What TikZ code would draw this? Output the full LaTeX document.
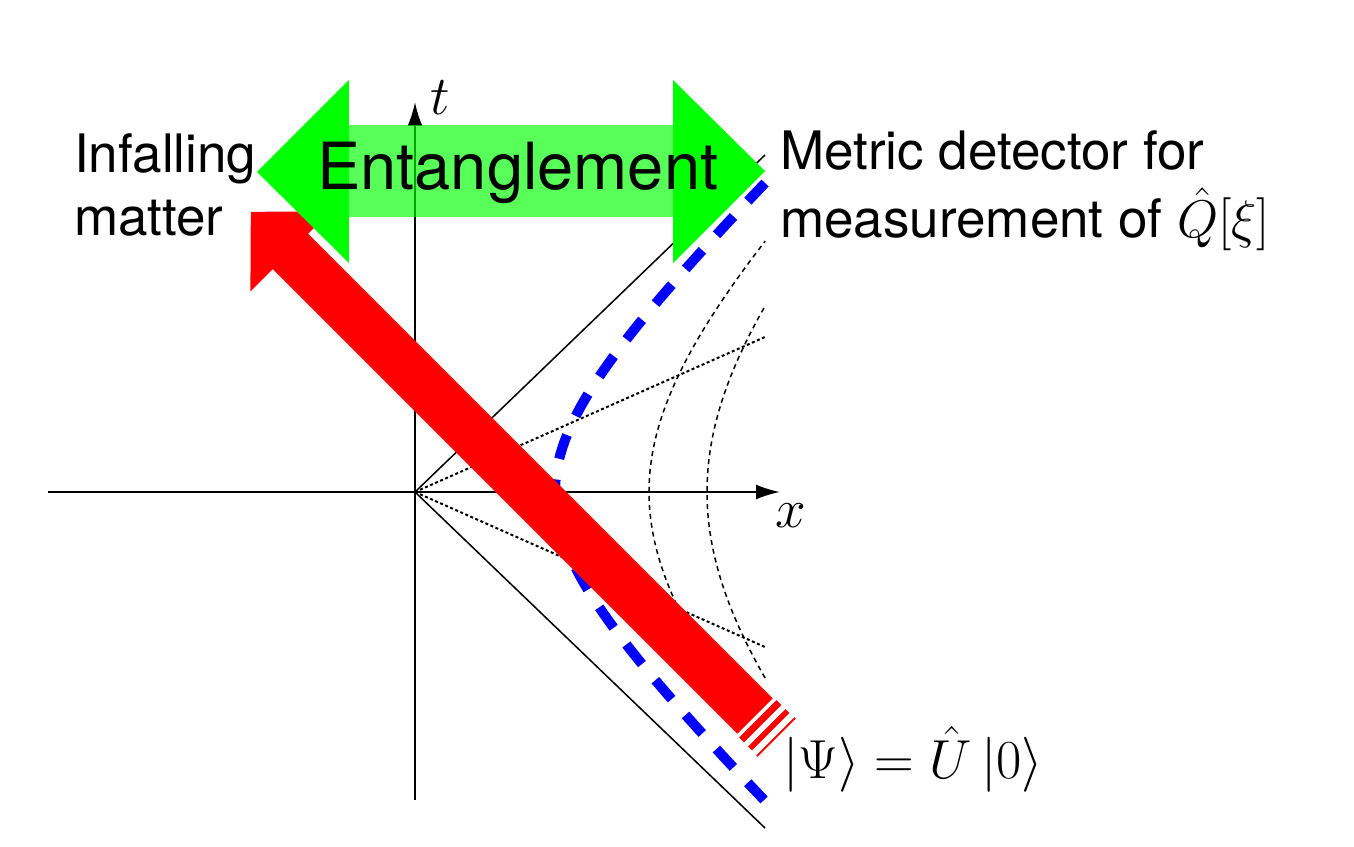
\RequirePackage{fix-cm}
\documentclass[tikz,border=0pt]{standalone}
\usepackage{fontspec}
\newfontfamily\hv{TeX Gyre Heros}
\usetikzlibrary{arrows.meta}
\definecolor{ggreen}{RGB}{0,255,0}
\definecolor{rred}{RGB}{255,0,0}
\definecolor{bblue}{RGB}{0,0,255}
\begin{document}
\begin{tikzpicture}[x=100pt,y=100pt,
  axisline/.style={line width=2pt,-{Latex[length=24pt,width=15pt]}},
  cone/.style={line width=1.5pt},
  ray/.style={line width=2pt,dash pattern=on 3pt off 2.5pt},
  hyp/.style={line width=1.5pt,dash pattern=on 5pt off 4pt},
  detector/.style={bblue,line width=10pt,dash pattern=on 25pt off 21pt},
  txt/.style={font=\hv\fontsize{53}{62}\selectfont,inner sep=0pt,anchor=base west},
  mtxt/.style={font=\fontsize{55}{64}\selectfont,inner sep=0pt,anchor=base west}]
\useasboundingbox[fill=white] (-4.15,-3.54) rectangle (9.39,4.92);
\coordinate (O) at (0,0);
\coordinate (tb) at (0,-3.08);
\coordinate (tt) at (0,3.90);
\coordinate (xl) at (-3.67,0);
\coordinate (xr) at (3.65,0);
% axes
\draw[axisline] (tb) -- (tt);
\draw[axisline] (xl) -- (xr);
% light cone
\coordinate (cu) at (3.5,3.37);
\coordinate (cd) at (3.5,-3.36);
\draw[cone] (O) -- (cu);
\draw[cone] (O) -- (cd);
% rays
\coordinate (ru) at (3.5,1.55);
\coordinate (rd) at (3.5,-1.55);
\coordinate (r0) at (3.5,0);
\draw[ray] (O) -- (ru);
\draw[ray] (O) -- (rd);
\draw[ray] (O) -- (r0);
% hyperbolae
\draw[hyp] plot[domain=-2.2:2.51,samples=70,variable=\vv] ({sqrt(2.34*2.34+(\vv/0.963)^2)},{\vv});
\draw[hyp] plot[domain=-1.86:1.86,samples=60,variable=\vv] ({sqrt(2.92*2.92+(\vv/0.963)^2)},{\vv});
% detector worldline
\draw[detector] plot[domain=3.09:-3.08,samples=90,variable=\vv] ({sqrt(1.96+(\vv/0.963)^2)},{\vv});
% infalling matter
\begin{scope}[shift={(3.40,-2.24)},rotate=-45]
\fill[rred] (0,-0.25) -- (-6.57,-0.25) -- (-6.57,-0.566) -- (-7.13,0) -- (-6.57,0.566) -- (-6.57,0.25) -- (0,0.25) -- cycle;
\draw[rred,line width=7pt] (0.074,-0.265) -- (0.074,0.265);
\draw[rred,line width=5.5pt] (0.194,-0.265) -- (0.194,0.265);
\draw[rred,line width=2pt] (0.297,-0.27) -- (0.297,0.27);
\end{scope}
% entanglement arrow
\fill[ggreen,opacity=0.65] (-0.66,2.75) rectangle (2.58,3.67);
\fill[ggreen] (-0.66,4.12) -- (-1.58,3.20) -- (-0.66,2.29) -- cycle;
\fill[ggreen] (2.58,4.12) -- (3.50,3.21) -- (2.58,2.29) -- cycle;
% labels
\node[txt,font=\hv\fontsize{65}{72}\selectfont] (ent) at (-0.98,3.02) {Entanglement};
\node[txt] (inf1) at (-3.41,3.19) {Infalling};
\node[txt] (inf2) at (-3.41,2.56) {matter};
\node[txt] (met1) at (3.65,3.22) {Metric detector for};
\node[txt] (met2) at (3.65,2.54) {measurement of $\hat{Q}[\xi]$};
\node[mtxt] (psi) at (3.68,-2.86) {$|\Psi\rangle=\hat{U}\,|0\rangle$};
\node[mtxt] (tl) at (0.15,3.77) {$t$};
\node[mtxt] (xlab) at (3.60,-0.35) {$x$};
\end{tikzpicture}
\end{document}
